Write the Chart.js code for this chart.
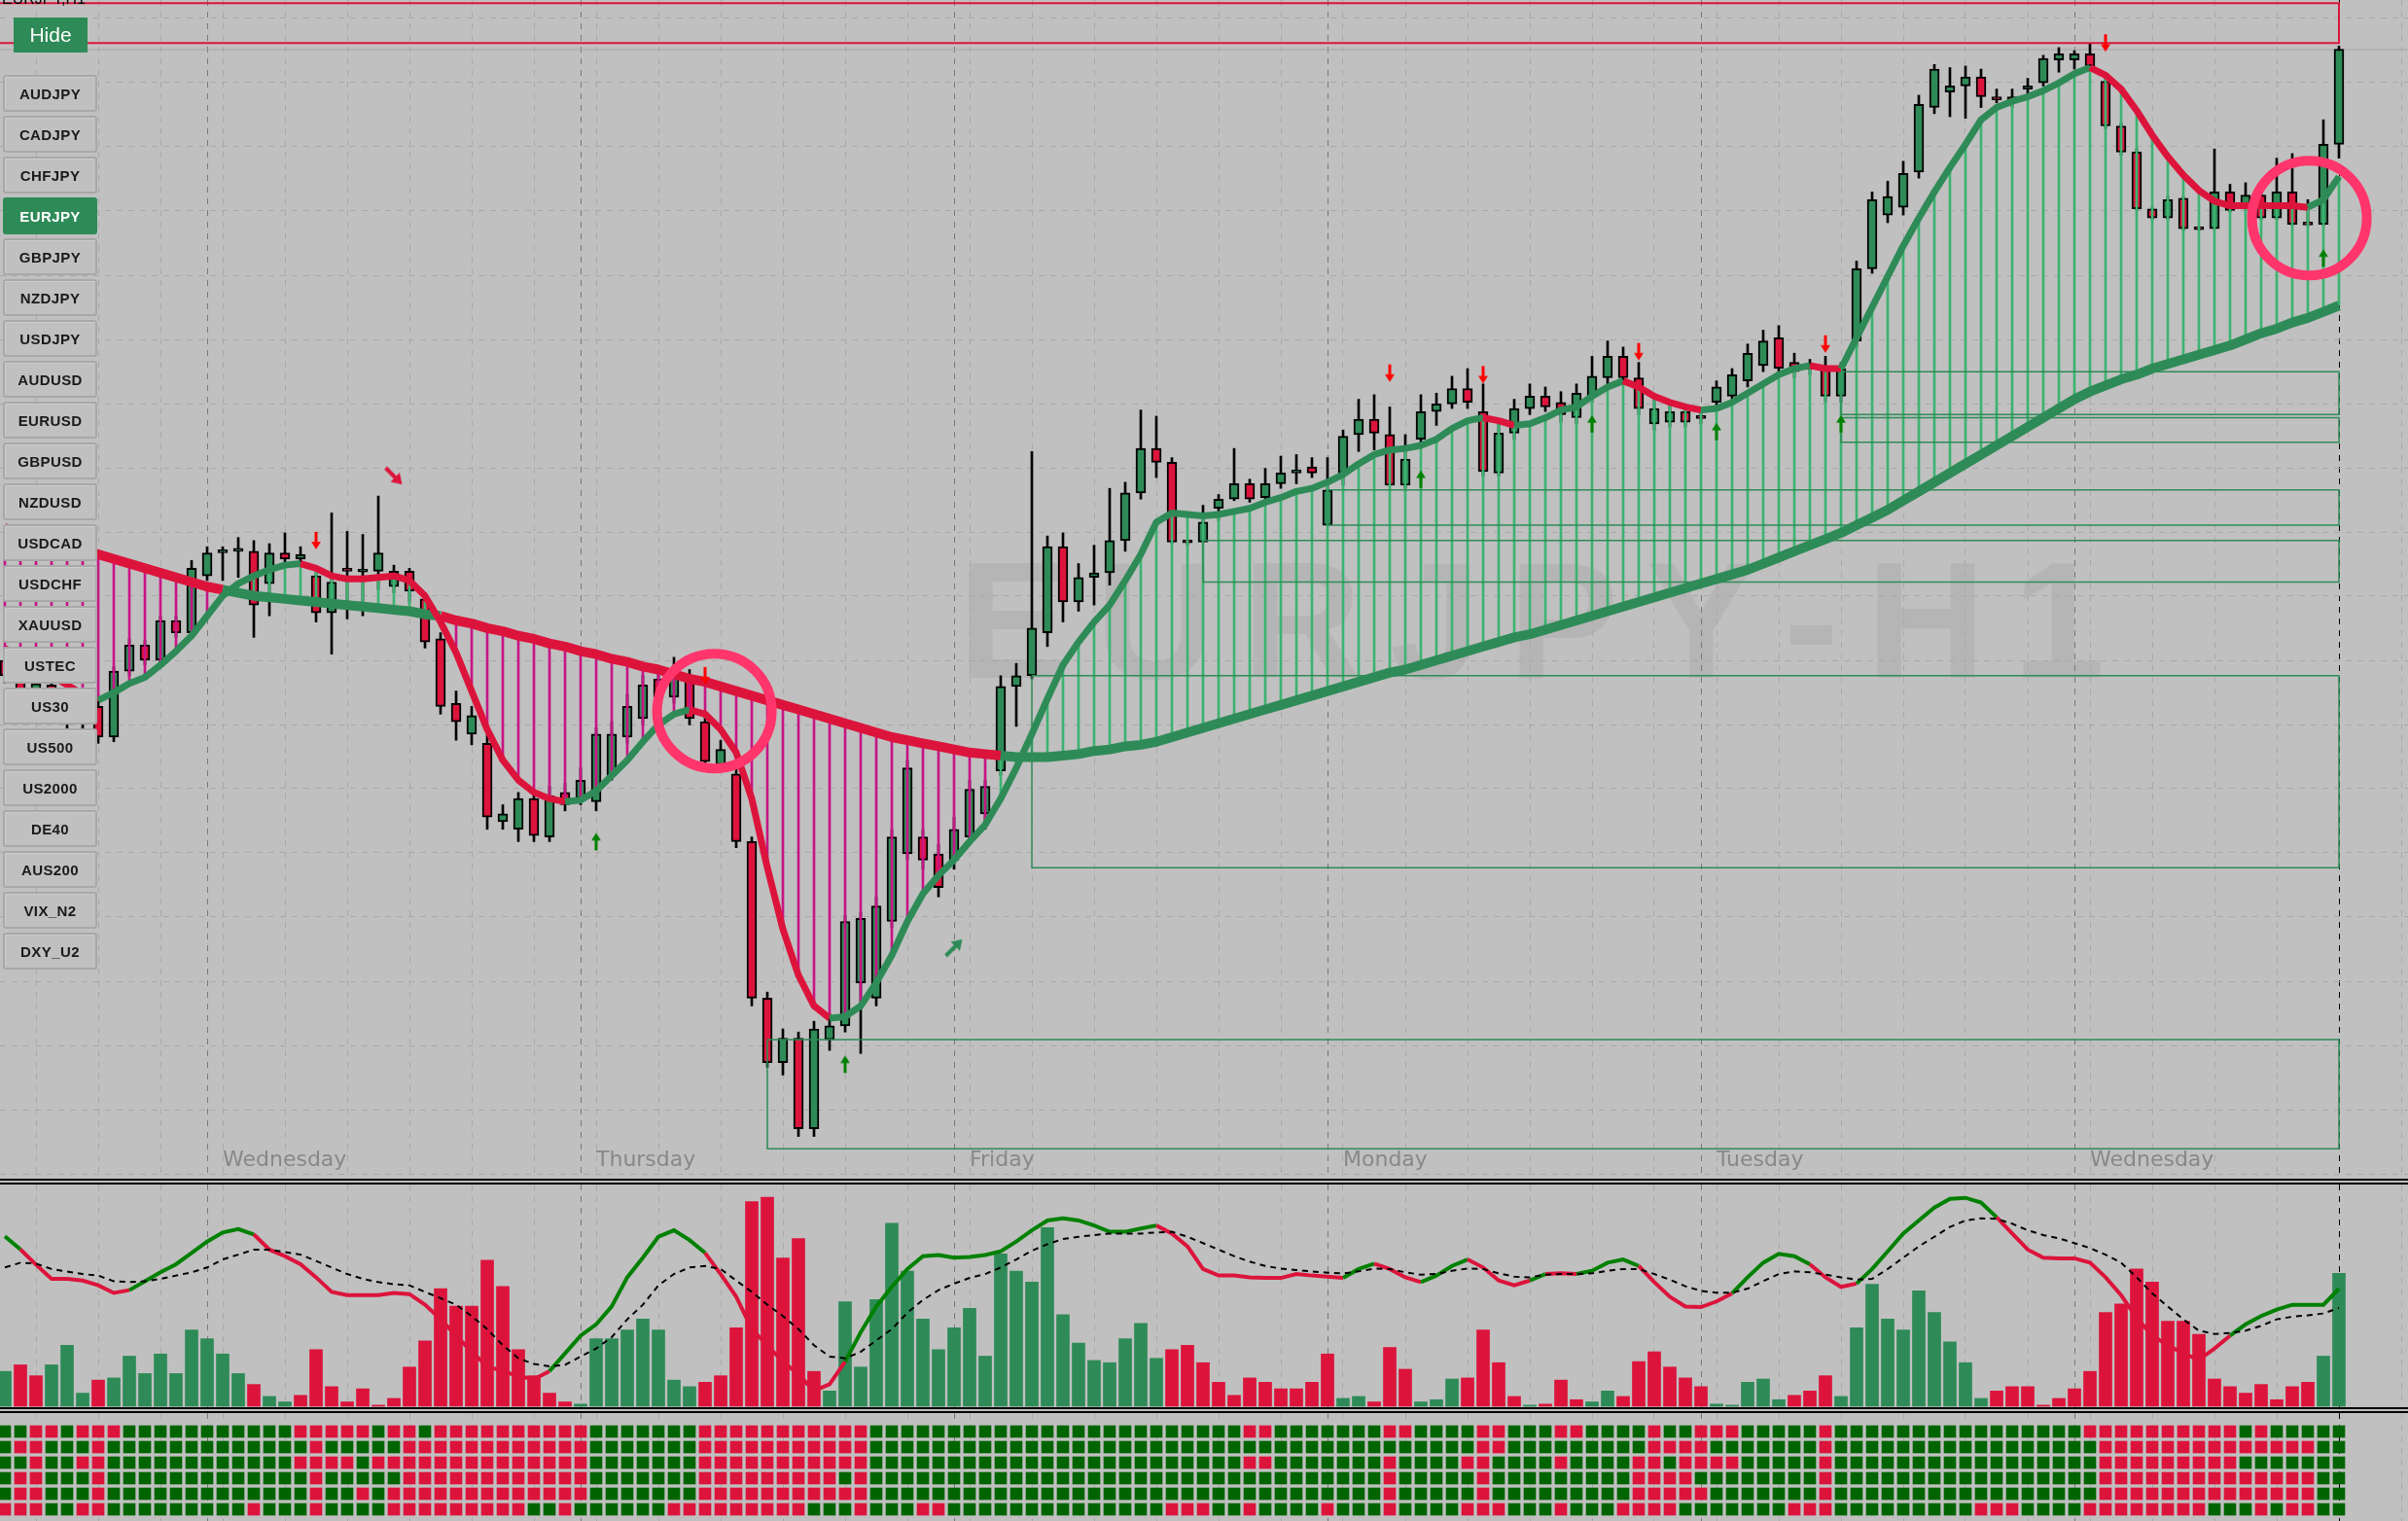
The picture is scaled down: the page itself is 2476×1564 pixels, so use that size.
<!DOCTYPE html>
<html><head><meta charset="utf-8">
<script src="https://cdn.jsdelivr.net/npm/chart.js@4.4.1/dist/chart.umd.min.js"></script>
<style>
html,body{margin:0;padding:0;background:#c0c0c0;}
body{width:2476px;height:1564px;position:relative;overflow:hidden;font-family:Arial,"Liberation Sans",sans-serif;}
canvas{position:absolute;left:0;display:block;}
#cMain{top:0}
#cOsc{top:1218px}
#cHeat{top:1453px}
.sep{position:absolute;left:0;width:2476px;height:2px;background:#000;}
.btn{position:absolute;left:3px;width:97px;height:38px;box-sizing:border-box;border:2px solid #a8a8a8;border-radius:3px;background:#c0c0c0;color:#1a1a1a;font:bold 15px Arial,"Liberation Sans",sans-serif;letter-spacing:0.4px;display:flex;align-items:center;justify-content:center;box-shadow:inset 1px 1px 0 #cccccc;}
.btn.on{background:#2e8b57;color:#fff;border-color:#2e8b57;box-shadow:none;}
#hide{position:absolute;left:14px;top:18px;width:76px;height:36px;background:#2e8b57;color:#fff;font:21px Arial,"Liberation Sans",sans-serif;display:flex;align-items:center;justify-content:center;}
#title{position:absolute;left:2px;top:-10px;font:16px Arial,"Liberation Sans",sans-serif;color:#000;}
</style></head><body>
<canvas id="cMain" width="2476" height="1212"></canvas>
<div class="sep" style="top:1212px"></div>
<div class="sep" style="top:1216px"></div>
<canvas id="cOsc" width="2476" height="229"></canvas>
<div class="sep" style="top:1447px"></div>
<div class="sep" style="top:1451px"></div>
<canvas id="cHeat" width="2476" height="111"></canvas>
<div id="title">EURJPY,H1</div>
<div id="hide">Hide</div>
<div id="btns"></div>
<script>
// ---------------- DATA ----------------
const symbols = ['AUDJPY','CADJPY','CHFJPY','EURJPY','GBPJPY','NZDJPY','USDJPY','AUDUSD','EURUSD','GBPUSD','NZDUSD','USDCAD','USDCHF','XAUUSD','USTEC','US30','US500','US2000','DE40','AUS200','VIX_N2','DXY_U2'];
const activeSymbol = 'EURJPY';
const chartTitle = 'EURJPY,H1';
const watermark = 'EURJPY-H1';

const dayNames = ['Wednesday','Thursday','Friday','Monday','Tuesday','Wednesday'];
const dayLabelIdx = [14,38,62,86,110,134];
const daySepIdx = [13,37,61,85,109,133];
const lastIdx = 150;

const opens = [336,326,314,320,304,296,306,286,329,346,
336,362,354,391,406,407,407,386,406,402,
391,367,396,393.5,394,384,394,376,350,308,
288,282,231,226,246,221,250,246,244,261,
286,298,324,312,326,296,268,262,218,116,
74,90,31,89,98,126,116,166,210,221,
210,206,221,236,264,319,326,354,410,374,
390,393,414,445,474,465,413,413,435,441,
451,442,451,458,462,424,458,483,493,483,
450,480,498,503,513,498,458,484,500,508,
504,494,508,520,534,520,490,491,498,494,
504,508,518,528,546,530,526,526,508,544,
591,626,631,654,696,706,710,716,703,703,
708,712,727,727,731,713,684,667,630,624,
637,617,617,641,631,639,624,641,620,620,
672];
const highs = [341,330,326,324,311,308,311,332,350,349,
365,365,401,410,410,416,414,412,419,410,
393,432,420,418,443,398,396,380,354,316,
306,288,242,250,252,254,256,266,292,296,
314,326,330,338,330,300,284,266,221,120,
96,94,101,106,170,172,182,226,271,226,
216,234,258,258,326,334,472,417,419,399,
411,448,452,499,495,468,414,437,444,474,
454,461,469,470,468,468,486,506,509,501,
483,509,510,521,526,516,490,506,516,514,
511,516,534,544,540,530,508,504,502,498,
518,526,542,551,554,536,532,534,530,596,
641,648,661,704,724,722,723,721,708,708,
715,730,735,733,738,716,686,669,631,638,
638,618,669,646,647,644,663,666,636,688,
736];
const lows = [321,308,306,298,288,290,282,283,326,333,
334,351,352,388,388,390,351,365,400,400,
361,340,363,365,382,380,374,344,301,284,
281,226,226,218,218,218,238,242,238,258,
282,294,308,308,294,268,264,214,111,71,
66,26,26,82,94,80,111,162,206,200,
182,200,216,226,261,293,324,345,361,368,
372,385,407,441,455,412,411,413,427,440,
439,441,448,451,455,424,450,472,473,450,
448,476,489,500,500,456,456,480,496,498,
491,490,504,516,516,496,486,488,488,490,
500,504,514,524,522,520,522,504,504,540,
588,621,626,650,692,690,689,696,699,696,
704,710,719,721,723,682,665,629,623,623,
616,616,617,628,629,623,623,619,619,619,
663];
const closes = [326,314,321,304,296,304,286,329,346,336,
362,354,396,406,408,409,372,406,402,405,
367,387,394,394,406,394,381,348,306,296,
300,234,236,246,222,248,242,258,288,288,
306,320,312,326,298,270,278,218,116,74,
90,31,96,98,166,168,176,221,266,206,
188,226,252,254,319,326,357,410,374,390,
393,414,445,474,465,413,412.5,426,441,451,
441,451,458,460,458,447,482,493,484,450,
467,498,503,513,504,459,484,500,508,501,
496,510,521,534,520,500,500,498,491,493.5,
514,522,536,544,526,524,525.5,508,526,591,
636,638,653,698,721,710,716,703,701,699,
710,728,731,731,723,684,667,630,624,636,
617,616.5,641,629,639,624,641,620,619.5,672,
734];

const fastMA = [344,338,332,326,320,314,310,315,321,325,
333,342,352,365,378,386,391,395,398,399,
396,391,389,389,390,391,388,378,361,341,
316,291,271,258,250,246,244,245,251,261,
271,283,294,301,304,301,291,276,246,201,
161,131,111,103,104,111,126,144,166,184,
196,206,218,229,246,266,288,311,333,348,
361,372,388,405,426,432,431,430,431,433,
435,439,442,446,448,452,457,464,470,473,
474,476,480,487,492,494,492,489,490,494,
499,501,508,514,518,514,508,504,501,499,
500,504,510,516,522,526,528,526,526,546,
566,586,606,624,641,657,672,688,696,700,
703,707,712,718,722,717,708,694,678,664,
652,642,635,632,632,632,632,632,631,636,
651];
const fastDirRLE = '6R13G17R8G9R42G2R7G5R7G2R16G14R2G';

const slowMA = [422,420,417,414,411,408,405,402,399,396,
393,390,387,384,382,380,378,377,376,375,
374,373,372,371,370,369,368,366,365,362,
360,357,355,352,350,347,345,342,340,337,
335,332,330,327,324,322,319,316,313,310,
307,304,301,298,295,292,289,286,284,282,
280,278,276,275,274,273,273,273,274,275,
277,278,280,281,283,286,289,292,295,298,
301,304,307,310,313,316,319,322,325,328,
330,333,336,339,342,345,348,351,353,356,
359,362,365,368,371,374,377,380,383,386,
389,392,395,399,403,407,411,415,419,424,
429,434,440,446,452,458,464,470,476,482,
488,494,500,506,511,515,519,522,526,529,
532,535,538,541,545,549,552,556,559,563,
567];
const slowDirRLE = '14R14G36R86G';

// support / resistance boxes (start index, upper, lower)
const levelStart = [49,66,77,85,118,118];
const levelTop = [89,326,414,447,524,494];
const levelBottom = [18,201,387,424,496,478];
// top target zone
const zoneTop = 764, zoneBottom = 738;
const bidLevel = 733.7;

// signal arrows
const arrowDownIdx = [20,45,89,95,105,117,135];
const arrowDownVal = [414,326,523,522,537,542,738];
const arrowUpIdx = [38,54,91,102,110,118,149];
const arrowUpVal = [218,73,454,490,485,490,598];
const diagDownIdx = [25], diagDownVal = [456];
const diagUpIdx = [61], diagUpVal = [149];

// highlight circles
const circleIdx = [45.6,148.1];
const circleVal = [303,624];

// oscillator
const oscHist = [16,19,14,19,28,6,12,13,23,15,
24,15,35,31,24,15,10,4.5,2,5,
26,9,2,8,0.5,3.6,18,30,54,46,
46,67,55,26,14,6,2,1,31,31,
35,40,35,12,9,11,14,36,94,96,
68,77,16,7,48,18,49,84,62,40,
26,36,45,23,70,62,57,82,42,29,
21,20,31,38,22,26,28,20,11,5,
13,11,8,8,11,24,3.6,4.5,2,27,
17,2,3,12.5,13,35,20,4.5,0.5,1,
12,3,2,7,4.5,20.5,25,18,13,9,
1,0.5,11,12.5,3,5,7,14,4.5,36,
56,40,35,53,43,29.5,20,3.6,7,9,
9,0.5,3.6,8,16,43,47,63,57,39,
39,33,12.5,9,6,10,3,9,11,23,
61];
const oscHistDirRLE = '1G2R3G1R9G1R2G18R8G8R22G11R2G3R3G4R1G3R2G6R5G3R10G21R2G';
const oscLine = [78,72,65,58.5,58.5,57.7,55.5,52,53.3,57.4,
61.5,65.2,70.4,75.6,79.8,81.3,78.9,71.9,68.9,65.2,
59.2,52.5,51,51,51,52,51.5,46.6,40,32.4,
25,18.3,16.1,13.8,12.4,16.1,24.3,32.4,37.6,45.8,
59.2,68.2,77.8,80.8,76.3,70.4,60.7,50.3,35.4,28,
20.5,14.6,7.1,10.1,20.5,33.9,45.8,54.8,63,68.9,
69.4,68.2,68.5,69.4,71.1,75.6,80.8,85.3,86.3,85.3,
83,80.1,80.1,81.6,83,79.3,73.4,63,60,60,
59.2,58.9,58.9,60.7,60,59.5,58.9,63,65.5,63,
59.2,57,60,64.4,67.4,63.7,57.7,55.5,57.7,60.7,
61,60.7,62.2,65.9,67.4,64.4,57,50.3,45.8,45.5,
48.1,51.8,59.2,65.9,70,68.9,65.2,59.2,54.8,56.3,
63,71.1,79.3,85.3,91.2,95.2,95.7,93.5,86.8,79.3,
71.9,68.2,67.9,67.9,65.9,59.2,51,40.6,32.4,28,
24.3,21.3,26.5,32.4,37.6,41.4,44.4,46.6,46.6,46.6,
54];
const oscLineDirRLE = '1G7R8G19R10G9R20G12R2G3R3G4R1G2R4G6R5G3R9G15R7G';
const oscSignal = [63.7,65.9,65.5,63,61.8,60.7,60,57.4,57,57.4,
58.5,60,61.5,63.7,67.4,69.6,71.9,71.9,70.8,69.6,
66.7,63.7,60.7,58.5,57,56,55.5,52.5,49.6,46.6,
41.4,35.4,28,22,19.4,18.3,19,22.8,26.5,31.7,
39.9,46.6,55.5,60.7,63.7,64.4,63,57.7,52.5,46.6,
41.4,35.4,28,22.8,22,25,30.2,35.4,42.9,48.8,
53.3,56.3,58.9,60.7,63.7,67.4,71.4,74.4,76.8,77.8,
78.6,79.3,79.3,79.3,79.8,80.1,77.8,74.9,71.9,68.9,
66.4,64.4,63.2,62.5,61.9,61.3,61,61.9,63.2,63,
61.5,60.4,60.7,62.2,63.2,63,61,59.5,59.2,60.4,
60.7,60.7,61,62.2,63,63,60.7,58.1,55.1,53,
52.1,52.1,54,57.4,60.7,61.9,61.5,60.4,59.2,58.1,
58.5,63,68.2,73.4,77.8,82.3,85.3,86.3,86,83.8,
80.8,78.6,77.1,74.9,72.6,69.6,65.9,59.2,51.8,45.8,
39.9,34.7,33.2,33.6,34.7,36.9,39.9,41.1,41.7,42.6,
45.1];

// multi-timeframe strength matrix (6 rows, run-length coded G/R)
const heatRow1 = '2G2R1G3R11G5R1G2R1G10R7G11R24G2R7G2R4G2R3G2R4G1R2G3R5G1R16G10R1G1R5G';
const heatRow2 = '1G2R3G1R13G1R5G12R7G11R39G2R9G4R7G1R17G14R2G';
const heatRow3 = '2G1R2G2R12G4R1G14R7G11R24G2R7G1R4G2R4G1R4G2R1G4R5G1R17G9R7G';
const heatRow4 = '1G2R3G1R13G1R5G12R7G9R1G1R33G1R5G1R9G4R8G1R17G14R2G';
const heatRow5 = '1G2R3G1R13G1R2G1R1G13R7G11R33G1R5G1R9G5R7G1R17G14R2G';
const heatRow6 = '3R2G2R9G1R3G1R4G9R2G1R6G9R3G1R3G2R14G3R2G1R4G1R3G1R4G3R3G1R3G4R7G3R9G3R4G8R3G1R1G2R2G';

// ---------------- STYLE ----------------
const GREEN='#2e8b57', RED='#dc143c', FILLG='#3cb371', FILLR='#c71585', LINEG='#008000', HEATG='#006400';
const X_MIN=-0.3125, X_MAX=154.4375;
function rle(s){let o='';s.replace(/(\d+)([GR])/g,(m,n,c)=>{o+=c.repeat(+n);return m;});return o;}
const fastDir=rle(fastDirRLE), slowDir=rle(slowDirRLE), histDir=rle(oscHistDirRLE), lineDir=rle(oscLineDirRLE);
const heatRows=[heatRow1,heatRow2,heatRow3,heatRow4,heatRow5,heatRow6].map(rle);
const K = opens.map((_,i)=>i);

// buttons
const bw=document.getElementById('btns');
symbols.forEach((s,i)=>{const d=document.createElement('div');d.className='btn'+(s===activeSymbol?' on':'');d.style.top=(77+42*i)+'px';d.textContent=s;bw.appendChild(d);});
document.getElementById('title').textContent=chartTitle;

// vertical grid ticks
const vTicks=[];for(let k=2;k<=154;k+=4)vTicks.push(k);daySepIdx.forEach(k=>vTicks.push(k));vTicks.sort((a,b)=>a-b);
const sepSet=new Set(daySepIdx);
const gridCol=c=>{const v=c.tick?c.tick.value:null;if(v===lastIdx)return '#000';if(sepSet.has(v))return '#787878';return '#a9a9a9';};
function xAxis(){return {type:'linear',min:X_MIN,max:X_MAX,offset:false,ticks:{display:false},
  grid:{drawTicks:false,offset:false,color:gridCol,lineWidth:1},border:{display:false,dash:[6,6]},
  afterBuildTicks:s=>{s.ticks=vTicks.map(v=>({value:v}));},afterFit:s=>{s.height=0;}};}
const baseOpts={responsive:false,devicePixelRatio:1,animation:false,events:[],layout:{autoPadding:false,padding:0},
  plugins:{legend:{display:false},tooltip:{enabled:false},title:{display:false}}};

function arrowImg(color,angle,size,lw){const c=document.createElement('canvas');c.width=c.height=size;const g=c.getContext('2d');
  g.translate(size/2,size/2);g.rotate(angle*Math.PI/180);g.strokeStyle=color;g.fillStyle=color;g.lineWidth=lw;
  const h=size/2-1;g.beginPath();g.moveTo(0,-h);g.lineTo(0,h*0.35);g.stroke();
  g.beginPath();g.moveTo(-h*0.55,h*0.15);g.lineTo(h*0.55,h*0.15);g.lineTo(0,h);g.closePath();g.fill();return c;}
const imgDown=arrowImg('#ff0000',0,20,3), imgUp=arrowImg('#008000',180,20,3);
const imgDiagDown=arrowImg(RED,-45,26,4), imgDiagUp=arrowImg(GREEN,-135,26,4);

// ---------------- MAIN CHART ----------------
const MAIN_MAX=766, MAIN_MIN=-1.5, PXU=1212/(MAIN_MAX-MAIN_MIN);
const hGrid=[];for(let n=0;n<19;n++)hGrid.push(MAIN_MAX-(19+66*n)/PXU);

const mainSets=[];
mainSets.push({type:'bar',data:K.map(i=>({x:i,y:[lows[i],highs[i]]})),backgroundColor:'#000',barThickness:2,grouped:false,order:9});
mainSets.push({type:'bar',data:K.map(i=>({x:i,y:[opens[i],closes[i]]})),backgroundColor:K.map(i=>closes[i]>=opens[i]?GREEN:RED),
  borderColor:'#000',borderWidth:2,borderSkipped:false,barThickness:10,grouped:false,minBarLength:3,order:8});
levelStart.forEach((s,i)=>mainSets.push({type:'line',data:[{x:s,y:levelTop[i]},{x:lastIdx,y:levelTop[i]},{x:lastIdx,y:levelBottom[i]},{x:s,y:levelBottom[i]},{x:s,y:levelTop[i]}],
  borderColor:GREEN,borderWidth:1.5,pointRadius:0,fill:false,order:4.5}));
mainSets.push({type:'line',data:[{x:-1,y:zoneTop},{x:lastIdx,y:zoneTop},{x:lastIdx,y:zoneBottom},{x:-1,y:zoneBottom}],borderColor:RED,borderWidth:2,pointRadius:0,fill:false,order:6});
mainSets.push({type:'line',data:[{x:-1,y:bidLevel},{x:160,y:bidLevel}],borderColor:'#a6a6a6',borderWidth:1,pointRadius:0,fill:false,order:10});
mainSets.push({type:'bar',data:K.map(i=>({x:i,y:[fastMA[i],slowMA[i]]})),backgroundColor:K.map(i=>slowDir[Math.min(i,149)]==='G'?FILLG:FILLR),barThickness:2,grouped:false,order:5});
mainSets.push({type:'line',data:K.map(i=>({x:i,y:slowMA[i]})),borderWidth:10,pointRadius:0,borderJoinStyle:'round',borderColor:GREEN,
  segment:{borderColor:c=>slowDir[c.p0DataIndex]==='G'?GREEN:RED},order:4});
mainSets.push({type:'line',data:K.map(i=>({x:i,y:fastMA[i]})),borderWidth:7,pointRadius:0,borderJoinStyle:'round',borderColor:GREEN,
  segment:{borderColor:c=>fastDir[c.p0DataIndex]==='G'?GREEN:RED},order:3});
function arrowSet(idx,val,img){return {type:'line',showLine:false,data:idx.map((k,i)=>({x:k,y:val[i]})),pointStyle:img,pointRadius:6,order:1};}
mainSets.push(arrowSet(arrowDownIdx,arrowDownVal,imgDown));
mainSets.push(arrowSet(arrowUpIdx,arrowUpVal,imgUp));
mainSets.push(arrowSet(diagDownIdx,diagDownVal,imgDiagDown));
mainSets.push(arrowSet(diagUpIdx,diagUpVal,imgDiagUp));

const watermarkPlugin={id:'wm',beforeDraw(ch){const g=ch.ctx;g.save();g.font='bold 170px Arial, "Liberation Sans", sans-serif';
  const w=g.measureText(watermark).width;const target=1170;const sp=(target-w)/(watermark.length-1);
  let x=985;g.fillStyle='rgba(0,0,0,0.055)';g.textBaseline='alphabetic';
  for(const ch2 of watermark){g.fillText(ch2,x,697);x+=g.measureText(ch2).width+sp;}g.restore();}};
const circlePlugin={id:'circ',afterDatasetsDraw(ch){const g=ch.ctx,xs=ch.scales.x,ys=ch.scales.y;g.save();g.strokeStyle='#ff356b';g.lineWidth=10;
  circleIdx.forEach((k,i)=>{g.beginPath();g.arc(xs.getPixelForValue(k),ys.getPixelForValue(circleVal[i]),59,0,Math.PI*2);g.stroke();});g.restore();}};
const dayPlugin={id:'days',afterDraw(ch){const g=ch.ctx,xs=ch.scales.x;g.save();g.font='22px "DejaVu Sans", Arial, sans-serif';g.fillStyle='#888888';g.textBaseline='alphabetic';
  dayNames.forEach((d,i)=>{g.fillText(d,xs.getPixelForValue(dayLabelIdx[i]),ch.height-13);});g.restore();}};

new Chart(document.getElementById('cMain'),{type:'line',data:{datasets:mainSets},
  options:Object.assign({},baseOpts,{scales:{x:xAxis(),
    y:{type:'linear',min:MAIN_MIN,max:MAIN_MAX,ticks:{display:false},grid:{drawTicks:false,color:'#a9a9a9',lineWidth:1},border:{display:false,dash:[6,6]},
      afterBuildTicks:s=>{s.ticks=hGrid.map(v=>({value:v}));},afterFit:s=>{s.width=0;}}}}),
  plugins:[watermarkPlugin,circlePlugin,dayPlugin]});

// ---------------- OSCILLATOR ----------------
new Chart(document.getElementById('cOsc'),{type:'line',data:{datasets:[
  {type:'bar',data:K.map(i=>({x:i,y:oscHist[i]})),backgroundColor:K.map(i=>histDir[i]==='G'?GREEN:RED),barThickness:13,grouped:false,order:3},
  {type:'line',data:K.map(i=>({x:i,y:oscLine[i]})),borderWidth:4,pointRadius:0,borderColor:LINEG,segment:{borderColor:c=>lineDir[c.p0DataIndex]==='G'?LINEG:RED},order:2},
  {type:'line',data:K.map(i=>({x:i,y:oscSignal[i]})),borderWidth:2,pointRadius:0,borderColor:'#000',borderDash:[6,5],order:1}
]},options:Object.assign({},baseOpts,{scales:{x:xAxis(),
  y:{type:'linear',min:-0.45,max:101.8,ticks:{display:false},grid:{display:false,drawTicks:false},border:{display:false},afterFit:s=>{s.width=0;}}}})});

// ---------------- HEAT MATRIX ----------------
new Chart(document.getElementById('cHeat'),{type:'line',data:{datasets:heatRows.map((row,r)=>({type:'bar',
  data:K.map(i=>({x:i,y:[r-0.375,r+0.375]})),backgroundColor:K.map(i=>row[i]==='G'?HEATG:RED),barThickness:12,grouped:false}))},
  options:Object.assign({},baseOpts,{scales:{x:xAxis(),
    y:{type:'linear',reverse:true,min:-1.1875,max:5.75,ticks:{display:false},grid:{display:false,drawTicks:false},border:{display:false},afterFit:s=>{s.width=0;}}}})});
</script>
</body></html>
